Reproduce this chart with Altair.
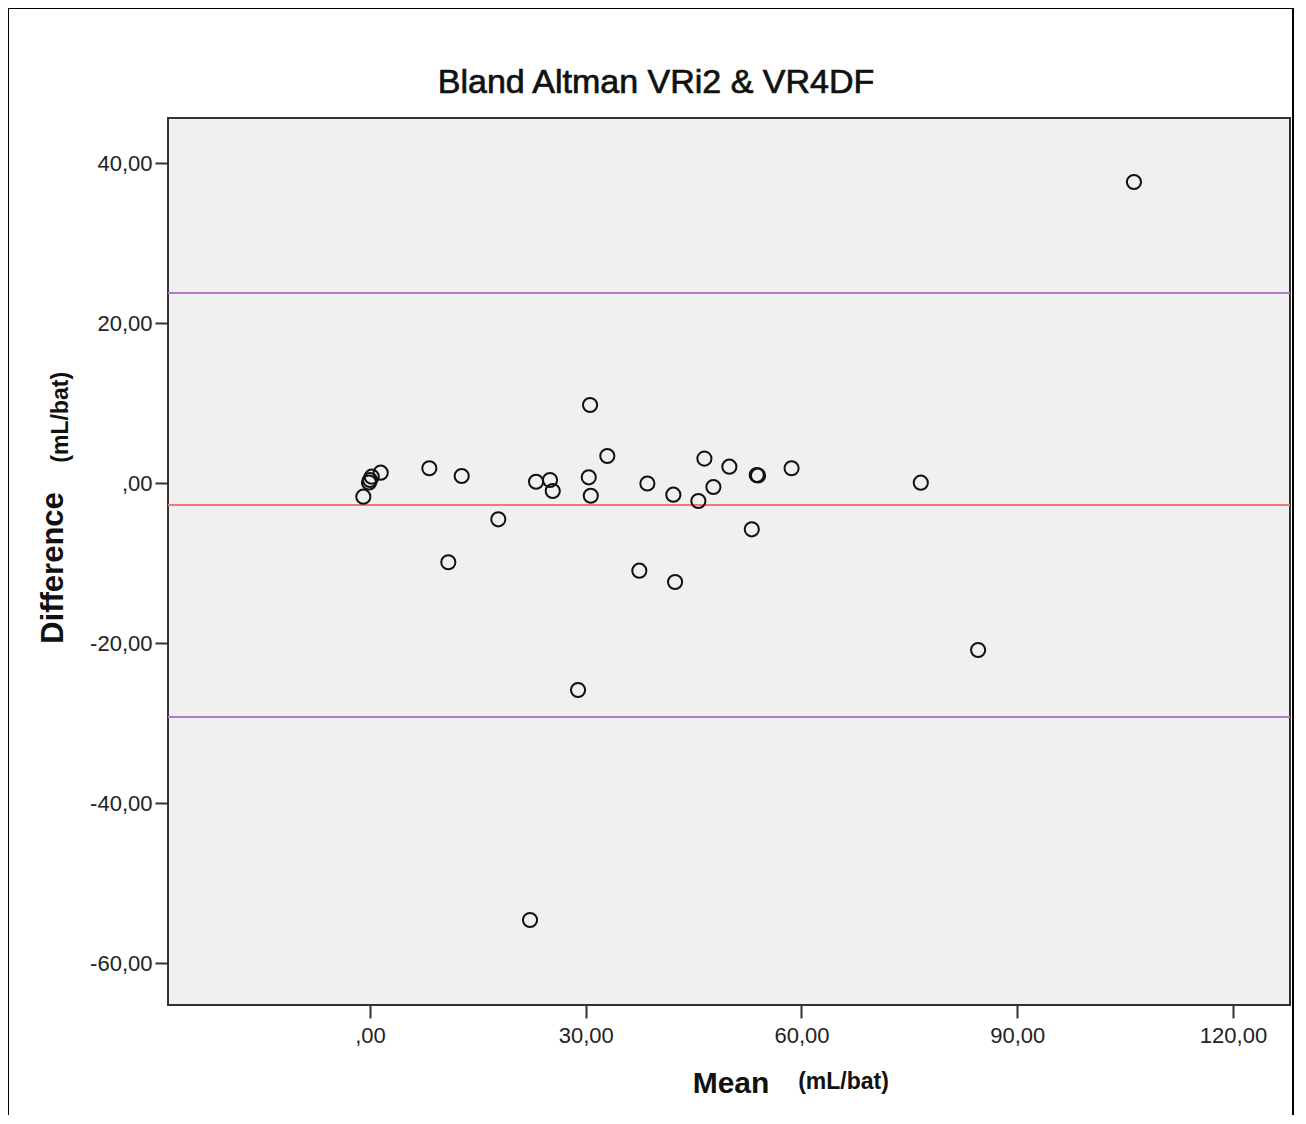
import altair as alt
import pandas as pd

# ---- data ----
mean_vals = [-0.93, -0.14, 0.00, 0.24, 1.49, 8.25, 12.75, 10.89, 17.84, 23.09,
             25.03, 25.41, 30.60, 30.42, 30.70, 33.00, 38.57, 37.45, 42.42, 42.18,
             46.50, 49.97, 47.75, 45.66, 53.78, 53.96, 53.09, 58.62, 76.59, 84.56,
             28.93, 22.25, 106.23]
diff_vals = [-1.71, 0.06, 0.38, 0.79, 1.29, 1.84, 0.88, -9.91, -4.54, 0.16,
             0.38, -1.00, 9.75, 0.71, -1.59, 3.38, -0.06, -10.96, -12.38, -1.46,
             3.05, 2.04, -0.50, -2.25, 1.00, 0.94, -5.79, 1.84, 0.04, -20.88,
             -25.88, -54.63, 37.63]

ref_names = ["upper", "mean", "lower"]
ref_values = [23.75, -2.75, -29.25]
ref_colors = ["#B07CC6", "#F07878", "#B07CC6"]

x_ticks = [0, 30, 60, 90, 120]
y_ticks = [-60, -40, -20, 0, 20, 40]

title_text = "Bland Altman VRi2 & VR4DF"
x_title = "Mean"
y_title = "Difference"
unit_text = "(mL/bat)"

FONT = "Liberation Sans"
W, H = 1122, 887

pts = pd.DataFrame({"mean": mean_vals, "diff": diff_vals})
refs = pd.DataFrame({"name": ref_names, "value": ref_values, "color": ref_colors})
one = pd.DataFrame({"k": [0]})

label_expr = ("datum.value == 0 ? ',00' : (datum.value < 0 ? '-' : '') + "
              "replace(format(abs(datum.value), '.2f'), '.', ',')")

xscale = alt.Scale(domain=[-28.09, 127.93], nice=False, zero=False)
yscale = alt.Scale(domain=[-65.25, 45.625], nice=False, zero=False)

xaxis = alt.Axis(values=x_ticks, labelExpr=label_expr, title=None, grid=False,
                 domain=False, tickSize=13, tickWidth=2, tickColor="#333333",
                 labelFont=FONT, labelFontSize=22, labelColor="#222222",
                 labelPadding=7)
yaxis = alt.Axis(values=y_ticks, labelExpr=label_expr, title=None, grid=False,
                 domain=False, tickSize=13, tickWidth=2, tickColor="#333333",
                 labelFont=FONT, labelFontSize=22, labelColor="#222222",
                 labelPadding=3)

points = alt.Chart(pts).mark_point(
    shape="circle", filled=False, stroke="#111111", strokeWidth=2, size=200, opacity=1
).encode(
    x=alt.X("mean:Q", scale=xscale, axis=xaxis),
    y=alt.Y("diff:Q", scale=yscale, axis=yaxis),
)

rules = alt.Chart(refs).mark_rule(strokeWidth=2.2).encode(
    y=alt.Y("value:Q", scale=yscale),
    color=alt.Color("color:N", scale=None, legend=None),
)

outer = alt.Chart(one).mark_rect(fill=None, stroke="#000000", strokeWidth=2).encode(
    x=alt.value(-160), x2=alt.value(1125),
    y=alt.value(-110), y2=alt.value(1020),
)

title = alt.Chart(one).mark_text(font=FONT, fontSize=34, color="#111111",
                                 stroke="#111111", strokeWidth=0.7,
                                 align="center", baseline="alphabetic").encode(
    x=alt.value(488), y=alt.value(-24.7), text=alt.value(title_text))

xt = alt.Chart(one).mark_text(font=FONT, fontSize=30, fontWeight="bold", color="#111111",
                              align="center", baseline="alphabetic").encode(
    x=alt.value(563), y=alt.value(974.5), text=alt.value(x_title))
xu = alt.Chart(one).mark_text(font=FONT, fontSize=23, fontWeight="bold", color="#111111",
                              align="center", baseline="alphabetic").encode(
    x=alt.value(675.5), y=alt.value(971), text=alt.value(unit_text))

yt = alt.Chart(one).mark_text(font=FONT, fontSize=31, fontWeight="bold", color="#111111",
                              align="center", baseline="alphabetic", angle=270).encode(
    x=alt.value(-104.7), y=alt.value(450), text=alt.value(y_title))
yu = alt.Chart(one).mark_text(font=FONT, fontSize=23, fontWeight="bold", color="#111111",
                              align="center", baseline="alphabetic", angle=270).encode(
    x=alt.value(-100.5), y=alt.value(299.3), text=alt.value(unit_text))

chart = alt.layer(rules, points, outer, title, xt, xu, yt, yu).properties(
    width=W, height=H,
    autosize=alt.AutoSizeParams(type="none"),
    padding={"left": 160, "top": 110, "right": 8, "bottom": 110},
    background="white",
).configure_view(
    fill="#F0F0F0", stroke="#333333", strokeWidth=2
)

chart.save("out.html", embed_options={"renderer": "svg", "actions": False})
